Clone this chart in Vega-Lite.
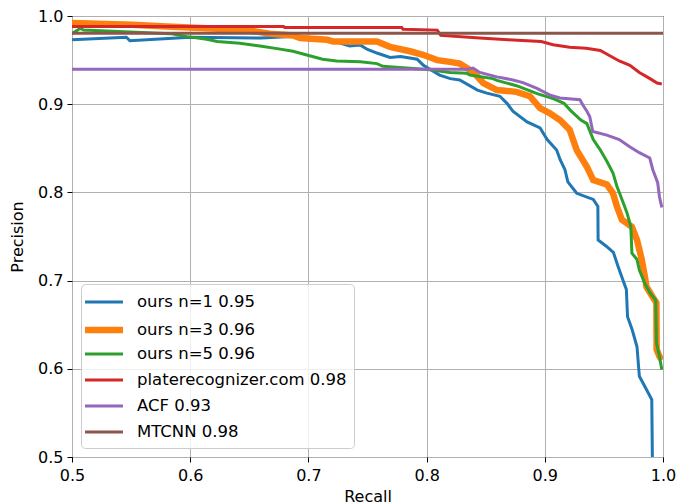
{
  "$schema": "https://vega.github.io/schema/vega-lite/v6.json",
  "width": 591,
  "height": 441,
  "autosize": {"type": "none"},
  "padding": {"left": 72, "top": 16, "right": 14, "bottom": 47},
  "background": "white",
  "config": {
    "font": "DejaVu Sans",
    "view": {"stroke": "black", "strokeWidth": 1}
  },
  "data": {"values": [
    {"s":"ours n=1 0.95","r":0.5,"p":0.973},
    {"s":"ours n=1 0.95","r":0.546,"p":0.976},
    {"s":"ours n=1 0.95","r":0.549,"p":0.972},
    {"s":"ours n=1 0.95","r":0.60,"p":0.976},
    {"s":"ours n=1 0.95","r":0.66,"p":0.975},
    {"s":"ours n=1 0.95","r":0.69,"p":0.977},
    {"s":"ours n=1 0.95","r":0.716,"p":0.9736},
    {"s":"ours n=1 0.95","r":0.735,"p":0.966},
    {"s":"ours n=1 0.95","r":0.744,"p":0.967},
    {"s":"ours n=1 0.95","r":0.750,"p":0.962},
    {"s":"ours n=1 0.95","r":0.758,"p":0.958},
    {"s":"ours n=1 0.95","r":0.769,"p":0.953},
    {"s":"ours n=1 0.95","r":0.778,"p":0.954},
    {"s":"ours n=1 0.95","r":0.792,"p":0.951},
    {"s":"ours n=1 0.95","r":0.797,"p":0.9445},
    {"s":"ours n=1 0.95","r":0.811,"p":0.933},
    {"s":"ours n=1 0.95","r":0.820,"p":0.929},
    {"s":"ours n=1 0.95","r":0.828,"p":0.9275},
    {"s":"ours n=1 0.95","r":0.843,"p":0.916},
    {"s":"ours n=1 0.95","r":0.851,"p":0.9125},
    {"s":"ours n=1 0.95","r":0.862,"p":0.909},
    {"s":"ours n=1 0.95","r":0.868,"p":0.901},
    {"s":"ours n=1 0.95","r":0.873,"p":0.892},
    {"s":"ours n=1 0.95","r":0.885,"p":0.880},
    {"s":"ours n=1 0.95","r":0.896,"p":0.873},
    {"s":"ours n=1 0.95","r":0.902,"p":0.860},
    {"s":"ours n=1 0.95","r":0.910,"p":0.848},
    {"s":"ours n=1 0.95","r":0.913,"p":0.837},
    {"s":"ours n=1 0.95","r":0.917,"p":0.826},
    {"s":"ours n=1 0.95","r":0.9195,"p":0.812},
    {"s":"ours n=1 0.95","r":0.927,"p":0.799},
    {"s":"ours n=1 0.95","r":0.941,"p":0.792},
    {"s":"ours n=1 0.95","r":0.9449,"p":0.784},
    {"s":"ours n=1 0.95","r":0.9451,"p":0.746},
    {"s":"ours n=1 0.95","r":0.952,"p":0.739},
    {"s":"ours n=1 0.95","r":0.958,"p":0.732},
    {"s":"ours n=1 0.95","r":0.962,"p":0.716},
    {"s":"ours n=1 0.95","r":0.966,"p":0.701},
    {"s":"ours n=1 0.95","r":0.969,"p":0.690},
    {"s":"ours n=1 0.95","r":0.970,"p":0.659},
    {"s":"ours n=1 0.95","r":0.974,"p":0.644},
    {"s":"ours n=1 0.95","r":0.978,"p":0.625},
    {"s":"ours n=1 0.95","r":0.980,"p":0.5915},
    {"s":"ours n=1 0.95","r":0.986,"p":0.5765},
    {"s":"ours n=1 0.95","r":0.9905,"p":0.565},
    {"s":"ours n=1 0.95","r":0.991,"p":0.5},
    {"s":"ours n=3 0.96","r":0.5,"p":0.992},
    {"s":"ours n=3 0.96","r":0.551,"p":0.990},
    {"s":"ours n=3 0.96","r":0.58,"p":0.988},
    {"s":"ours n=3 0.96","r":0.6475,"p":0.984},
    {"s":"ours n=3 0.96","r":0.667,"p":0.980},
    {"s":"ours n=3 0.96","r":0.687,"p":0.978},
    {"s":"ours n=3 0.96","r":0.693,"p":0.975},
    {"s":"ours n=3 0.96","r":0.716,"p":0.973},
    {"s":"ours n=3 0.96","r":0.721,"p":0.971},
    {"s":"ours n=3 0.96","r":0.758,"p":0.971},
    {"s":"ours n=3 0.96","r":0.769,"p":0.965},
    {"s":"ours n=3 0.96","r":0.786,"p":0.960},
    {"s":"ours n=3 0.96","r":0.797,"p":0.956},
    {"s":"ours n=3 0.96","r":0.809,"p":0.950},
    {"s":"ours n=3 0.96","r":0.8197,"p":0.948},
    {"s":"ours n=3 0.96","r":0.828,"p":0.946},
    {"s":"ours n=3 0.96","r":0.839,"p":0.937},
    {"s":"ours n=3 0.96","r":0.848,"p":0.924},
    {"s":"ours n=3 0.96","r":0.8595,"p":0.916},
    {"s":"ours n=3 0.96","r":0.876,"p":0.914},
    {"s":"ours n=3 0.96","r":0.8874,"p":0.909},
    {"s":"ours n=3 0.96","r":0.896,"p":0.8955},
    {"s":"ours n=3 0.96","r":0.904,"p":0.890},
    {"s":"ours n=3 0.96","r":0.9128,"p":0.882},
    {"s":"ours n=3 0.96","r":0.921,"p":0.871},
    {"s":"ours n=3 0.96","r":0.927,"p":0.848},
    {"s":"ours n=3 0.96","r":0.9356,"p":0.829},
    {"s":"ours n=3 0.96","r":0.941,"p":0.814},
    {"s":"ours n=3 0.96","r":0.9525,"p":0.809},
    {"s":"ours n=3 0.96","r":0.9577,"p":0.799},
    {"s":"ours n=3 0.96","r":0.961,"p":0.784},
    {"s":"ours n=3 0.96","r":0.9652,"p":0.769},
    {"s":"ours n=3 0.96","r":0.9737,"p":0.761},
    {"s":"ours n=3 0.96","r":0.978,"p":0.746},
    {"s":"ours n=3 0.96","r":0.982,"p":0.724},
    {"s":"ours n=3 0.96","r":0.9846,"p":0.705},
    {"s":"ours n=3 0.96","r":0.986,"p":0.693},
    {"s":"ours n=3 0.96","r":0.991,"p":0.682},
    {"s":"ours n=3 0.96","r":0.9944,"p":0.675},
    {"s":"ours n=3 0.96","r":0.9946,"p":0.622},
    {"s":"ours n=3 0.96","r":0.997,"p":0.614},
    {"s":"ours n=3 0.96","r":0.999,"p":0.61},
    {"s":"ours n=5 0.96","r":0.5,"p":0.980},
    {"s":"ours n=5 0.96","r":0.507,"p":0.986},
    {"s":"ours n=5 0.96","r":0.51,"p":0.984},
    {"s":"ours n=5 0.96","r":0.583,"p":0.980},
    {"s":"ours n=5 0.96","r":0.5975,"p":0.9766},
    {"s":"ours n=5 0.96","r":0.614,"p":0.9736},
    {"s":"ours n=5 0.96","r":0.623,"p":0.971},
    {"s":"ours n=5 0.96","r":0.642,"p":0.969},
    {"s":"ours n=5 0.96","r":0.659,"p":0.966},
    {"s":"ours n=5 0.96","r":0.6735,"p":0.963},
    {"s":"ours n=5 0.96","r":0.687,"p":0.960},
    {"s":"ours n=5 0.96","r":0.701,"p":0.955},
    {"s":"ours n=5 0.96","r":0.712,"p":0.951},
    {"s":"ours n=5 0.96","r":0.724,"p":0.949},
    {"s":"ours n=5 0.96","r":0.744,"p":0.948},
    {"s":"ours n=5 0.96","r":0.758,"p":0.946},
    {"s":"ours n=5 0.96","r":0.763,"p":0.943},
    {"s":"ours n=5 0.96","r":0.803,"p":0.939},
    {"s":"ours n=5 0.96","r":0.8197,"p":0.936},
    {"s":"ours n=5 0.96","r":0.834,"p":0.935},
    {"s":"ours n=5 0.96","r":0.8367,"p":0.933},
    {"s":"ours n=5 0.96","r":0.856,"p":0.929},
    {"s":"ours n=5 0.96","r":0.8595,"p":0.927},
    {"s":"ours n=5 0.96","r":0.876,"p":0.921},
    {"s":"ours n=5 0.96","r":0.8935,"p":0.912},
    {"s":"ours n=5 0.96","r":0.9077,"p":0.906},
    {"s":"ours n=5 0.96","r":0.9162,"p":0.901},
    {"s":"ours n=5 0.96","r":0.9217,"p":0.893},
    {"s":"ours n=5 0.96","r":0.9305,"p":0.882},
    {"s":"ours n=5 0.96","r":0.9356,"p":0.878},
    {"s":"ours n=5 0.96","r":0.941,"p":0.860},
    {"s":"ours n=5 0.96","r":0.947,"p":0.848},
    {"s":"ours n=5 0.96","r":0.9526,"p":0.835},
    {"s":"ours n=5 0.96","r":0.9577,"p":0.822},
    {"s":"ours n=5 0.96","r":0.961,"p":0.807},
    {"s":"ours n=5 0.96","r":0.9653,"p":0.792},
    {"s":"ours n=5 0.96","r":0.9695,"p":0.777},
    {"s":"ours n=5 0.96","r":0.9728,"p":0.761},
    {"s":"ours n=5 0.96","r":0.9737,"p":0.731},
    {"s":"ours n=5 0.96","r":0.978,"p":0.724},
    {"s":"ours n=5 0.96","r":0.980,"p":0.712},
    {"s":"ours n=5 0.96","r":0.9846,"p":0.697},
    {"s":"ours n=5 0.96","r":0.989,"p":0.686},
    {"s":"ours n=5 0.96","r":0.9938,"p":0.678},
    {"s":"ours n=5 0.96","r":0.9945,"p":0.629},
    {"s":"ours n=5 0.96","r":0.997,"p":0.614},
    {"s":"ours n=5 0.96","r":0.999,"p":0.599},
    {"s":"platerecognizer.com 0.98","r":0.5,"p":0.988},
    {"s":"platerecognizer.com 0.98","r":0.679,"p":0.988},
    {"s":"platerecognizer.com 0.98","r":0.68,"p":0.987},
    {"s":"platerecognizer.com 0.98","r":0.779,"p":0.987},
    {"s":"platerecognizer.com 0.98","r":0.78,"p":0.985},
    {"s":"platerecognizer.com 0.98","r":0.809,"p":0.984},
    {"s":"platerecognizer.com 0.98","r":0.812,"p":0.978},
    {"s":"platerecognizer.com 0.98","r":0.845,"p":0.975},
    {"s":"platerecognizer.com 0.98","r":0.869,"p":0.973},
    {"s":"platerecognizer.com 0.98","r":0.897,"p":0.971},
    {"s":"platerecognizer.com 0.98","r":0.907,"p":0.9675},
    {"s":"platerecognizer.com 0.98","r":0.921,"p":0.9645},
    {"s":"platerecognizer.com 0.98","r":0.935,"p":0.9634},
    {"s":"platerecognizer.com 0.98","r":0.947,"p":0.961},
    {"s":"platerecognizer.com 0.98","r":0.955,"p":0.955},
    {"s":"platerecognizer.com 0.98","r":0.963,"p":0.949},
    {"s":"platerecognizer.com 0.98","r":0.972,"p":0.944},
    {"s":"platerecognizer.com 0.98","r":0.980,"p":0.936},
    {"s":"platerecognizer.com 0.98","r":0.989,"p":0.929},
    {"s":"platerecognizer.com 0.98","r":0.995,"p":0.924},
    {"s":"platerecognizer.com 0.98","r":0.999,"p":0.923},
    {"s":"ACF 0.93","r":0.5,"p":0.9396},
    {"s":"ACF 0.93","r":0.835,"p":0.9396},
    {"s":"ACF 0.93","r":0.8393,"p":0.941},
    {"s":"ACF 0.93","r":0.845,"p":0.936},
    {"s":"ACF 0.93","r":0.8595,"p":0.931},
    {"s":"ACF 0.93","r":0.873,"p":0.9275},
    {"s":"ACF 0.93","r":0.8815,"p":0.9245},
    {"s":"ACF 0.93","r":0.8934,"p":0.918},
    {"s":"ACF 0.93","r":0.904,"p":0.9105},
    {"s":"ACF 0.93","r":0.9128,"p":0.907},
    {"s":"ACF 0.93","r":0.9297,"p":0.905},
    {"s":"ACF 0.93","r":0.9322,"p":0.899},
    {"s":"ACF 0.93","r":0.9356,"p":0.892},
    {"s":"ACF 0.93","r":0.938,"p":0.886},
    {"s":"ACF 0.93","r":0.9406,"p":0.869},
    {"s":"ACF 0.93","r":0.9525,"p":0.865},
    {"s":"ACF 0.93","r":0.963,"p":0.860},
    {"s":"ACF 0.93","r":0.9715,"p":0.852},
    {"s":"ACF 0.93","r":0.980,"p":0.845},
    {"s":"ACF 0.93","r":0.9888,"p":0.839},
    {"s":"ACF 0.93","r":0.9913,"p":0.826},
    {"s":"ACF 0.93","r":0.9955,"p":0.811},
    {"s":"ACF 0.93","r":0.997,"p":0.795},
    {"s":"ACF 0.93","r":0.999,"p":0.783},
    {"s":"MTCNN 0.98","r":0.5,"p":0.9805},
    {"s":"MTCNN 0.98","r":1.0,"p":0.9805}
  ]},
  "mark": {"type": "line", "clip": true},
  "encoding": {
    "x": {"field": "r", "type": "quantitative", "title": "Recall",
      "scale": {"domain": [0.5, 1.0], "nice": false, "zero": false},
      "axis": {"values": [0.5, 0.6, 0.7, 0.8, 0.9, 1.0], "format": ".1f", "labelFontSize": 16, "titleFontSize": 16, "labelColor": "black", "titleColor": "black", "titleFontWeight": "normal", "domain": false, "tickColor": "black", "tickSize": 5, "labelPadding": 5, "titlePadding": 5, "gridColor": "#b0b0b0", "gridOpacity": 1, "gridWidth": 1, "labelFlush": false}},
    "y": {"field": "p", "type": "quantitative", "title": "Precision",
      "scale": {"domain": [0.5, 1.0], "nice": false, "zero": false},
      "axis": {"values": [0.5, 0.6, 0.7, 0.8, 0.9, 1.0], "format": ".1f", "labelFontSize": 16, "titleFontSize": 16, "labelColor": "black", "titleColor": "black", "titleFontWeight": "normal", "domain": false, "tickColor": "black", "tickSize": 5, "labelPadding": 4, "titlePadding": 12, "gridColor": "#b0b0b0", "gridOpacity": 1, "gridWidth": 1, "labelFlush": false}},
    "color": {"field": "s", "type": "nominal", "title": null,
      "scale": {"domain": ["ours n=1 0.95", "ours n=3 0.96", "ours n=5 0.96", "platerecognizer.com 0.98", "ACF 0.93", "MTCNN 0.98"],
        "range": ["#1f77b4", "#ff7f0e", "#2ca02c", "#d62728", "#9467bd", "#8c564b"]},
      "legend": {"orient": "bottom-left", "offset": 9, "padding": 7, "rowPadding": -2, "gridAlign": "all", "symbolType": "M-2,0H2", "symbolSize": 361, "symbolOffset": 3, "labelFontSize": 16.5, "labelColor": "black", "labelOffset": 20, "fillColor": "rgba(255,255,255,0.8)", "strokeColor": "#cccccc", "cornerRadius": 4, "labelLimit": 400}},
    "strokeWidth": {"field": "s", "type": "nominal", "title": null,
      "scale": {"type": "ordinal", "domain": ["ours n=1 0.95", "ours n=3 0.96", "ours n=5 0.96", "platerecognizer.com 0.98", "ACF 0.93", "MTCNN 0.98"],
        "range": [3, 6.5, 3, 3, 3, 3]},
      "legend": null},
    "order": {"field": "r", "type": "quantitative"}
  }
}
